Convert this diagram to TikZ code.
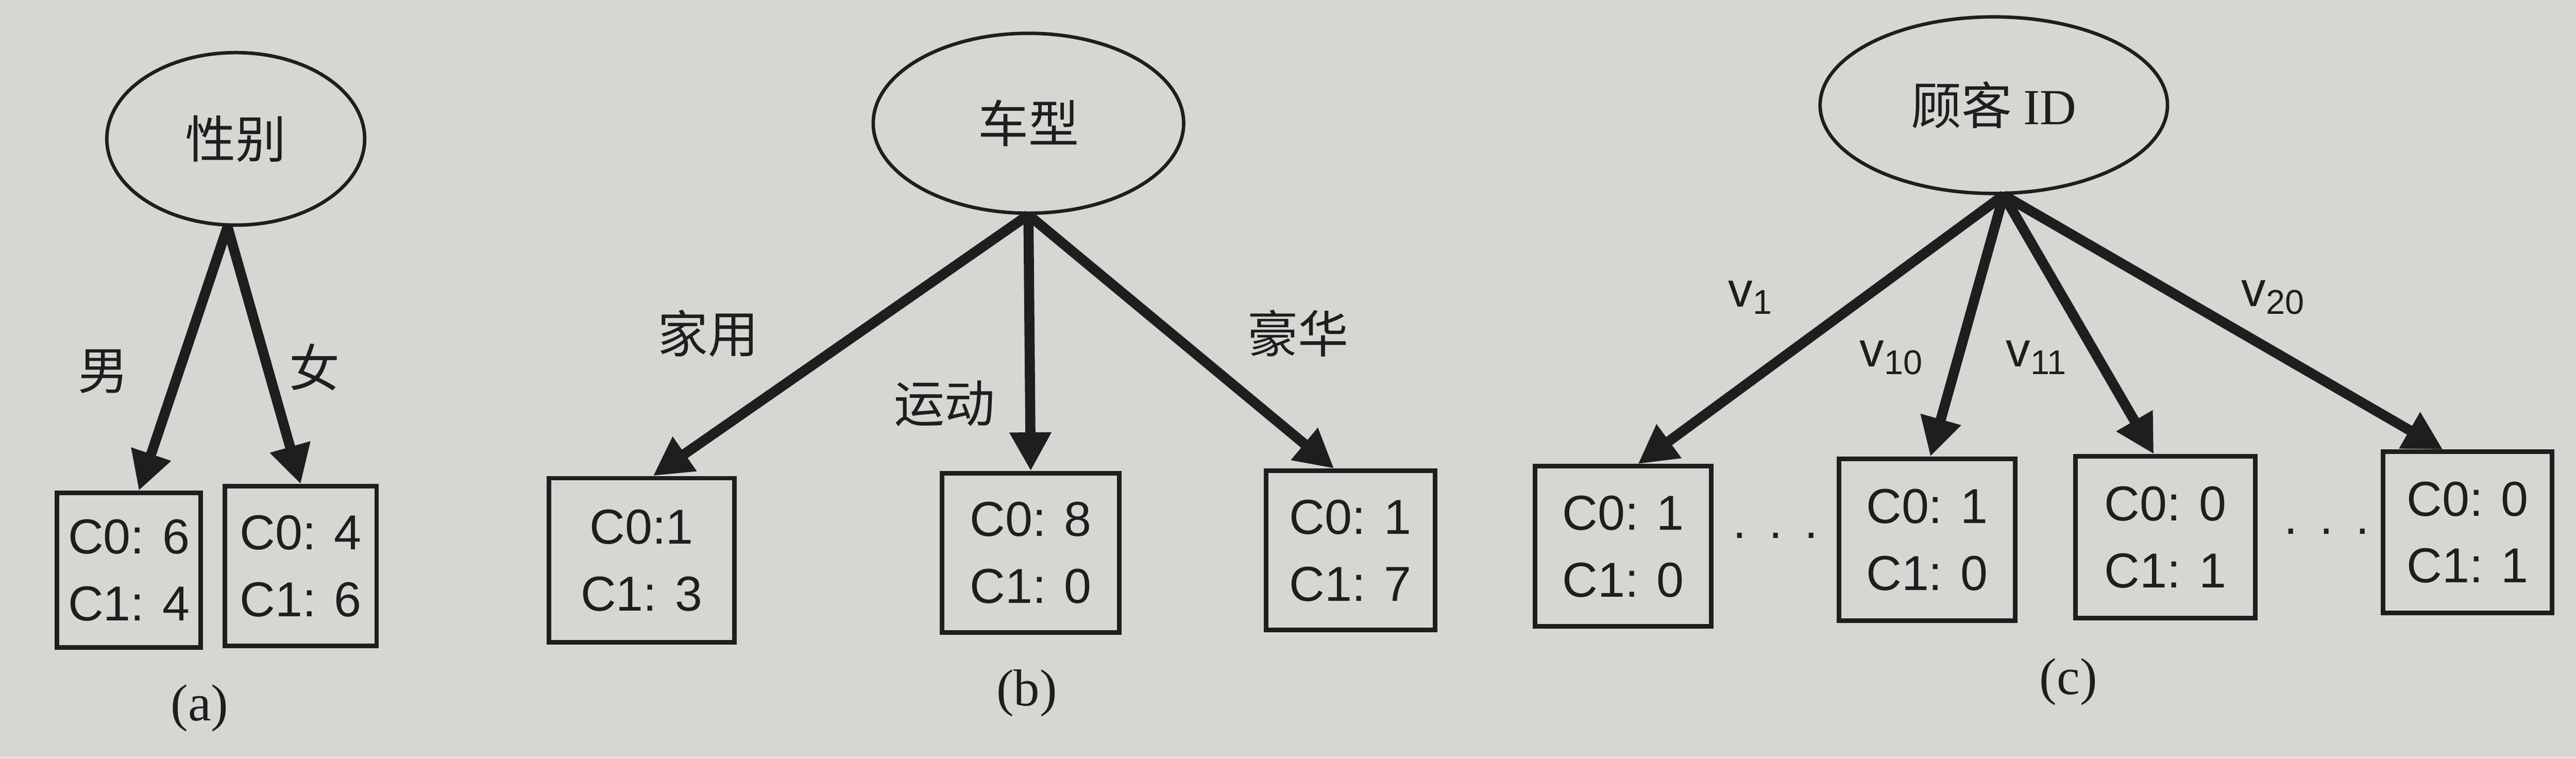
\documentclass[tikz,border=0pt]{standalone}
\usepackage{fontspec}
\setmainfont{Liberation Serif}
\setsansfont{Liberation Sans}
\newfontfamily\cjk{Noto Sans CJK SC}
\usepackage{tikz}
\usetikzlibrary{shapes,arrows.meta,positioning}
\definecolor{paper}{RGB}{214,214,211}
\definecolor{ink}{RGB}{30,30,30}

\begin{document}
\begin{tikzpicture}[
    x=0.02cm, y=-0.02cm,
    attr/.style={ellipse, draw=ink, line width=1.2pt, inner sep=0pt, text=ink, font=\cjk\fontsize{17.5}{20}\selectfont},
    leaf/.style={rectangle, draw=ink, line width=1.6pt, inner sep=0pt, align=center, text=ink, font=\sffamily\fontsize{17}{23.2}\selectfont},
    arrow/.style={-{Triangle[length=0.47cm,width=0.48cm]}, draw=ink, line width=3.5pt},
    lbl/.style={text=ink, font=\cjk\fontsize{17.5}{20}\selectfont},
    val/.style={text=ink, font=\sffamily\fontsize{17}{20}\selectfont},
    subcap/.style={text=ink, font=\fontsize{18}{20}\selectfont}
]
    \useasboundingbox (0,0) rectangle (1568,461);
    \fill[paper] (0,0) rectangle (1568,461);

    % (a) split on sex
    \node[attr, minimum width=3.14cm, minimum height=2.1cm] (sex) at (143.5,84.5) {性别};
    \node[leaf, minimum width=1.75cm, minimum height=1.88cm] (male) at (78.5,347) {C0: 6\\C1: 4};
    \node[leaf, minimum width=1.85cm, minimum height=1.94cm] (female) at (183,344.5) {C0: 4\\C1: 6};
    \draw[arrow] ([xshift=-0.1cm]sex.south) -- ([xshift=0.12cm]male.north);
    \draw[arrow] ([xshift=-0.1cm]sex.south) -- (female.north);
    \node[lbl] (lmale) at (63,226) {男};
    \node[lbl] (lfemale) at (191.6,223.5) {女};
    \node[subcap] (capa) at (121.5,431) {(a)};

    % (b) split on car type
    \node[attr, minimum width=3.78cm, minimum height=2.19cm] (car) at (626,75) {车型};
    \node[leaf, minimum width=2.26cm, minimum height=2cm] (family) at (390.5,341) {C0:1\\C1: 3};
    \node[leaf, minimum width=2.16cm, minimum height=1.94cm] (sport) at (627.4,336.5) {C0: 8\\C1: 0};
    \node[leaf, minimum width=2.06cm, minimum height=1.94cm] (luxury) at (822,335) {C0: 1\\C1: 7};
    \draw[arrow] (car.south) -- ([xshift=0.14cm]family.north);
    \draw[arrow] (car.south) -- (sport.north);
    \draw[arrow] (car.south) -- ([xshift=-0.2cm]luxury.north);
    \node[lbl] (lfamily) at (431,203) {家用};
    \node[lbl] (lsport) at (575,245.5) {运动};
    \node[lbl] (lluxury) at (790,203) {豪华};
    \node[subcap] (capb) at (625,422) {(b)};

    % (c) split on customer id
    \node[attr, minimum width=4.23cm, minimum height=2.15cm] (cid) at (1213.6,64) {顾客 {\rmfamily ID}};
    \node[leaf, minimum width=2.15cm, minimum height=1.95cm] (c1) at (988,332.5) {C0: 1\\C1: 0};
    \node[leaf, minimum width=2.15cm, minimum height=1.97cm] (c10) at (1173,328.5) {C0: 1\\C1: 0};
    \node[leaf, minimum width=2.19cm, minimum height=1.97cm] (c11) at (1318,327) {C0: 0\\C1: 1};
    \node[leaf, minimum width=2.06cm, minimum height=1.96cm] (c20) at (1502,324) {C0: 0\\C1: 1};
    \draw[arrow] ([xshift=0.12cm]cid.south) -- ([xshift=0.18cm]c1.north);
    \draw[arrow] ([xshift=0.12cm]cid.south) -- ([xshift=0.04cm]c10.north);
    \draw[arrow] ([xshift=0.12cm]cid.south) -- ([xshift=-0.14cm]c11.north);
    \draw[arrow] ([xshift=0.12cm]cid.south) -- ([xshift=-0.3cm]c20.north);
    \node[val] (lc1) at (1065.7,181) {v\textsubscript{1}};
    \node[val] (lc10) at (1151.6,217.6) {v\textsubscript{10}};
    \node[val] (lc11) at (1239.8,217.6) {v\textsubscript{11}};
    \node[val] (lc20) at (1383.9,181) {v\textsubscript{20}};
    \node[val] (dotsl) at (1080.8,326) {.\hspace{0.45em}.\hspace{0.45em}.};
    \node[val] (dotsr) at (1416.2,323.4) {.\hspace{0.45em}.\hspace{0.45em}.};
    \node[subcap] (capc) at (1259,415) {(c)};
\end{tikzpicture}
\end{document}
